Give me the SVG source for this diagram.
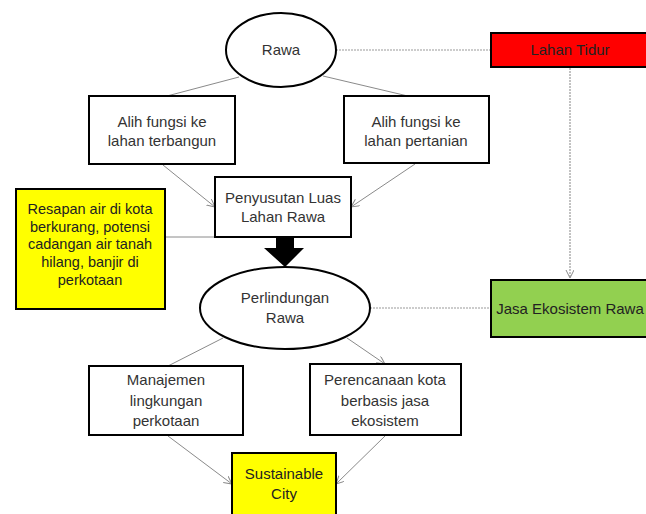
<svg xmlns="http://www.w3.org/2000/svg" width="646" height="514" viewBox="0 0 646 514">
<style>
.box{stroke:#000;stroke-width:2;}
.t{font-family:"Liberation Sans",Arial,sans-serif;font-size:15px;fill:#333;text-anchor:middle;}
.s{font-size:14.5px;fill:#222;}
.ln{stroke:#8a8a8a;stroke-width:1;fill:none;}
.dot{stroke:#9a9a9a;stroke-width:1.2;stroke-dasharray:2 1;fill:none;}
</style>
<defs>
<marker id="ah" markerWidth="10" markerHeight="10" refX="8" refY="4" orient="auto" markerUnits="userSpaceOnUse">
<path d="M0,0 L8,4 L0,8" fill="none" stroke="#8a8a8a" stroke-width="1"/>
</marker>
</defs>
<rect width="646" height="514" fill="#fff"/>
<g id="connectors">
<line class="dot" x1="336" y1="50" x2="491" y2="50"/>
<line class="dot" x1="570" y1="68" x2="570" y2="278" marker-end="url(#ah)"/>
<line class="dot" x1="370" y1="308" x2="491" y2="308"/>
<line class="ln" x1="239" y1="77" x2="167" y2="96"/>
<line class="ln" x1="323" y1="76" x2="412" y2="97"/>
<line class="ln" x1="163" y1="165" x2="215" y2="207" marker-end="url(#ah)"/>
<line class="ln" x1="415" y1="164" x2="351" y2="207" marker-end="url(#ah)"/>
<line class="ln" x1="165" y1="237" x2="215" y2="237"/>
<line class="ln" x1="223" y1="338" x2="168" y2="366"/>
<line class="ln" x1="347" y1="338" x2="385" y2="364" marker-end="url(#ah)"/>
<line class="ln" x1="168" y1="436" x2="232" y2="484" marker-end="url(#ah)"/>
<line class="ln" x1="385" y1="436" x2="336" y2="484" marker-end="url(#ah)"/>
<path d="M276,237 H294 V248 H304 L285,267 L264,248 H276 Z" fill="#000"/>
</g>
<g id="rawa">
<ellipse class="box" cx="281" cy="50" rx="55" ry="37" fill="#fff"/>
<text class="t" x="281" y="55">Rawa</text>
</g>
<g id="lahan-tidur">
<rect class="box" x="491" y="33" width="160" height="34" fill="#ff0000"/>
<text class="t" x="570" y="55" style="fill:#222">Lahan Tidur</text>
</g>
<g id="alih-terbangun">
<rect class="box" x="89" y="96" width="146" height="68" fill="#fff"/>
<text class="t" x="162" y="127">Alih fungsi ke</text>
<text class="t" x="162" y="146">lahan terbangun</text>
</g>
<g id="alih-pertanian">
<rect class="box" x="344" y="96" width="145" height="67" fill="#fff"/>
<text class="t" x="416" y="127">Alih fungsi ke</text>
<text class="t" x="416" y="146">lahan pertanian</text>
</g>
<g id="penyusutan">
<rect class="box" x="215" y="177" width="136" height="60" fill="#fff"/>
<text class="t" x="283" y="203">Penyusutan Luas</text>
<text class="t" x="283" y="222">Lahan Rawa</text>
</g>
<g id="resapan">
<rect class="box" x="16" y="189" width="149" height="120" fill="#ffff00"/>
<text class="t s" x="90" y="214">Resapan air di kota</text>
<text class="t s" x="90" y="232">berkurang, potensi</text>
<text class="t s" x="90" y="249">cadangan air tanah</text>
<text class="t s" x="90" y="267">hilang, banjir di</text>
<text class="t s" x="90" y="285">perkotaan</text>
</g>
<g id="perlindungan">
<ellipse class="box" cx="285" cy="308" rx="85" ry="41" fill="#fff"/>
<text class="t" x="285" y="303">Perlindungan</text>
<text class="t" x="285" y="323">Rawa</text>
</g>
<g id="jasa">
<rect class="box" x="491" y="280" width="160" height="57" fill="#92d050"/>
<text class="t" x="570" y="314" style="fill:#222">Jasa Ekosistem Rawa</text>
</g>
<g id="manajemen">
<rect class="box" x="89" y="366" width="154" height="69" fill="#fff"/>
<text class="t" x="166" y="385">Manajemen</text>
<text class="t" x="166" y="406">lingkungan</text>
<text class="t" x="166" y="426">perkotaan</text>
</g>
<g id="perencanaan">
<rect class="box" x="310" y="364" width="151" height="71" fill="#fff"/>
<text class="t" x="385" y="385">Perencanaan kota</text>
<text class="t" x="385" y="406">berbasis jasa</text>
<text class="t" x="385" y="426">ekosistem</text>
</g>
<g id="sustainable">
<rect class="box" x="232" y="453" width="104" height="70" fill="#ffff00"/>
<text class="t" x="284" y="479" style="fill:#222">Sustainable</text>
<text class="t" x="284" y="499" style="fill:#222">City</text>
</g>
</svg>
